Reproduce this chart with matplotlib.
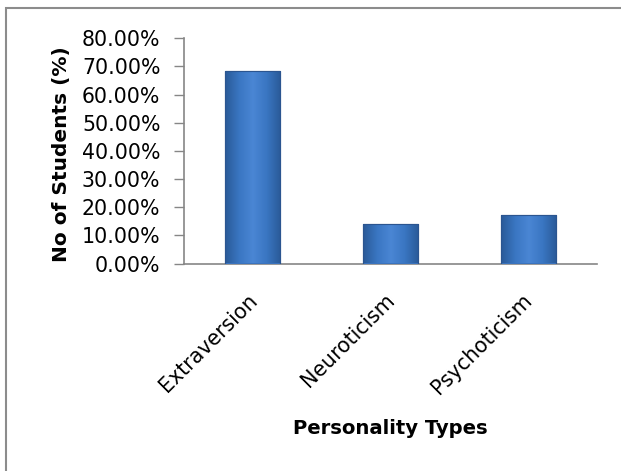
import matplotlib.pyplot as plt
import numpy as np
import matplotlib.transforms as mtransforms
from matplotlib.colors import LinearSegmentedColormap
from matplotlib.patches import Rectangle
from matplotlib.ticker import FuncFormatter

categorias = ['Extraversion', 'Neuroticism', 'Psychoticism']
porcentagens = [68.5, 14.2, 17.4]
yticks = [0, 10, 20, 30, 40, 50, 60, 70, 80]

plt.rcParams['font.family'] = ['DejaVu Sans']

W, H = 621, 471
fig = plt.figure(figsize=(W / 100, H / 100), dpi=100)
ax = fig.add_axes([184 / W, 1 - 263.5 / H, (597 - 184) / W, (263.5 - 38.3) / H])

x = np.arange(len(categorias))
barras = ax.bar(x, porcentagens, width=0.4, color='#3C77C4',
                edgecolor='#2B5590', linewidth=0.8, zorder=3)

# degrade horizontal imitando o bisel do Excel
cmap = LinearSegmentedColormap.from_list(
    'bisel', ['#2A5A98', '#3A76C2', '#4A86D4', '#3A76C2', '#2A5A98'])
for b in barras:
    bx, by = b.get_x(), b.get_y()
    bw, bh = b.get_width(), b.get_height()
    grad = np.linspace(0, 1, 64).reshape(1, -1)
    im = ax.imshow(grad, extent=[bx, bx + bw, by, by + bh], aspect='auto',
                   cmap=cmap, zorder=4)
    im.set_clip_path(b)
    ax.add_patch(Rectangle((bx, by), bw, bh, fill=False,
                           edgecolor='#2B5590', linewidth=0.8, zorder=5))

ax.set_xlim(-0.5, 2.5)
ax.set_ylim(0, 80)
ax.set_yticks(yticks)
ax.yaxis.set_major_formatter(FuncFormatter(lambda v, p: f'{v:.2f}%'))
ax.set_xticks(x)
ax.set_xticklabels([])
ax.tick_params(axis='x', length=0)
ax.tick_params(axis='y', length=7, width=1, color='#868686', labelsize=14.8, pad=10)

# rotulos das categorias, deslocados como no Excel
trans = mtransforms.offset_copy(ax.get_xaxis_transform(), fig=fig,
                                x=-6, y=-26.5, units='dots')
for xi, nome in zip(x, categorias):
    ax.text(xi, 0, nome, transform=trans, rotation=45, ha='right', va='top',
            rotation_mode='anchor', fontsize=14.8, clip_on=False)

for s in ['top', 'right']:
    ax.spines[s].set_visible(False)
for s in ['left', 'bottom']:
    ax.spines[s].set_color('#868686')
    ax.spines[s].set_linewidth(1.2)

fig.text(62 / W, 1 - 154 / H, 'No of Students (%)', fontsize=14.5,
         fontweight='bold', rotation=90, ha='center', va='center')
fig.text(390 / W, 1 - 428 / H, 'Personality Types', fontsize=14.1,
         fontweight='bold', ha='center', va='center')

# moldura do grafico (cortada a direita e embaixo)
fig.patches.append(Rectangle((6 / W, -0.1), 1.2, 1 - 8 / H + 0.1, fill=False,
                             edgecolor='#8C8C8C', linewidth=1.5,
                             transform=fig.transFigure, figure=fig))

plt.savefig('out.png', dpi=100)
